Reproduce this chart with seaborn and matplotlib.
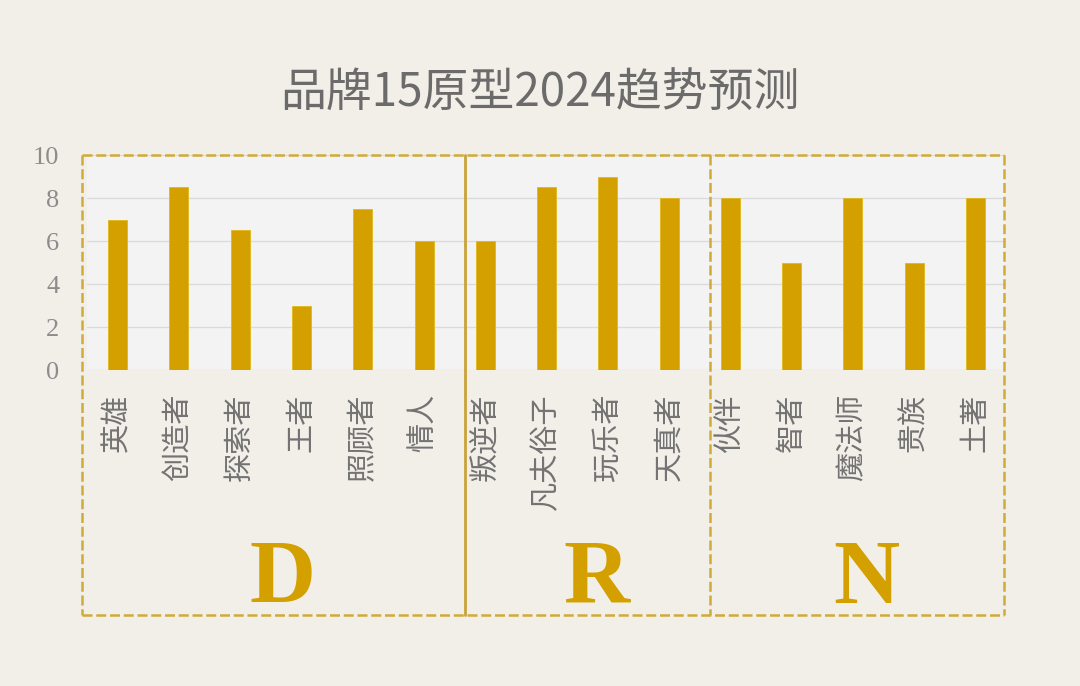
import numpy as np
import seaborn as sns
import matplotlib.pyplot as plt

# chart data
title = "品牌15原型2024趋势预测"
archetypes = ["英雄", "创造者", "探索者", "王者", "照顾者", "情人",
              "叛逆者", "凡夫俗子", "玩乐者", "天真者",
              "伙伴", "智者", "魔法师", "贵族", "土著"]
scores = [7, 8.5, 6.5, 3, 7.5, 6,
          6, 8.5, 9, 8,
          8, 5, 8, 5, 8]
group_names = ["D", "R", "N"]
group_sizes = [6, 4, 5]
y_ticks = [0, 2, 4, 6, 8, 10]

bg = "#f2efe8"
gold = "#d3a000"
line_gold = "#d0ab3a"

sns.set_theme(style="white")
cjk = ["Noto Sans CJK SC", "DejaVu Sans"]
plt.rcParams["font.family"] = cjk

fig = plt.figure(figsize=(10.8, 6.86), dpi=100, facecolor=bg)
ax = fig.add_axes([0.0806, 0.4606, 0.851, 0.3134])
ax.set_facecolor("#f3f3f3")

sns.barplot(x=archetypes, y=scores, color=gold, saturation=1,
            width=0.31, ax=ax, zorder=3, edgecolor="#e0b81a", linewidth=0.6)

ax.set_ylim(0, 10)
ax.set_xlim(-0.5, len(archetypes) - 0.5)
ax.set_yticks(y_ticks)
ax.set_yticklabels([str(t) for t in y_ticks], family="Liberation Serif",
                   fontsize=19, color="#8c8c8c")
ax.yaxis.grid(True, color="#dadada", linewidth=0.9, zorder=0)
ax.set_axisbelow(True)
ax.tick_params(axis="y", length=0, pad=20)
ax.tick_params(axis="x", length=0, pad=17)
for lab in ax.get_xticklabels():
    lab.set_rotation(90)
    lab.set_va("top")
    lab.set_ha("center")
    lab.set_fontsize(21)
    lab.set_color("#737373")
    lab.set_family(cjk)
for s in ax.spines.values():
    s.set_visible(False)
ax.set_xlabel("")
ax.set_ylabel("")

# group frames (x in data units, y in axes fraction)
bounds = np.concatenate([[0], np.cumsum(group_sizes)]) - 0.5
edges = bounds.astype(float).copy()
edges[0] -= 0.09
edges[1:-1] += 0.17
edges[-1] -= 0.04
trans = ax.get_xaxis_transform()
y_top, y_bot = 1.0, -1.14
dash_kw = dict(color=line_gold, lw=1.8, dashes=(4, 1.5), transform=trans,
               clip_on=False, zorder=5)
ax.plot([edges[0], edges[-1]], [y_top, y_top], **dash_kw)
ax.plot([edges[0], edges[-1]], [y_bot, y_bot], **dash_kw)
for i, e in enumerate(edges):
    if i == 1:
        ax.plot([e, e], [y_top, y_bot], color="#c9a238", lw=2,
                transform=trans, clip_on=False, zorder=5)
    else:
        ax.plot([e, e], [y_top, y_bot], **dash_kw)

for i, name in enumerate(group_names):
    cx = (edges[i] + edges[i + 1]) / 2 + 0.15
    ax.text(cx, -0.98, name, transform=trans, ha="center", va="center",
            family="Liberation Serif", fontweight="bold", fontsize=66,
            color=gold)

fig.text(0.5, 0.865, title, ha="center", va="center", fontsize=33,
         color="#6b6b6b", family=cjk)

fig.savefig("out.png", dpi=100, facecolor=bg)
